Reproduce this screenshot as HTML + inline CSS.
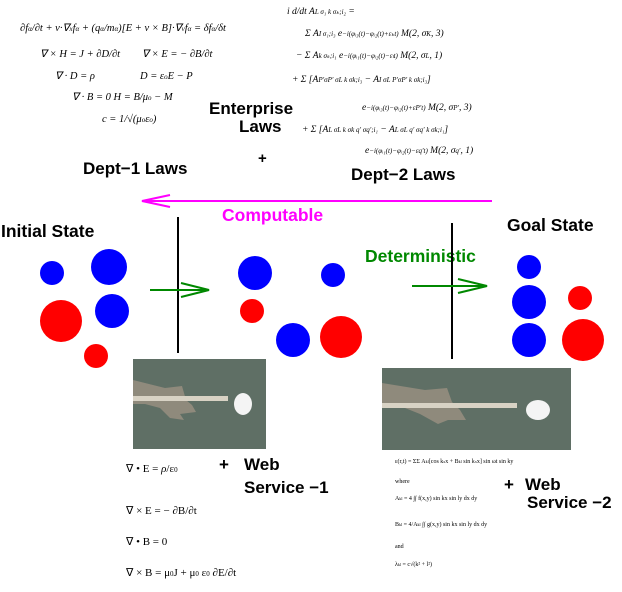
<!DOCTYPE html>
<html><head><meta charset="utf-8"><style>
html,body{margin:0;padding:0;background:#fff;}
svg{display:block;}
.b{font-family:"Liberation Sans",sans-serif;font-weight:bold;}
.m{font-family:"Liberation Serif",serif;font-style:italic;fill:#000;}
</style></head><body>
<svg width="622" height="592" viewBox="0 0 622 592" xmlns="http://www.w3.org/2000/svg">
<g class="m" font-size="10.5">
<text x="20" y="31">∂f<tspan font-size="7">α</tspan>/∂t + v·∇<tspan font-size="7">x</tspan>f<tspan font-size="7">α</tspan> + (q<tspan font-size="7">α</tspan>/m<tspan font-size="7">α</tspan>)[E + v × B]·∇<tspan font-size="7">v</tspan>f<tspan font-size="7">α</tspan> = δf<tspan font-size="7">α</tspan>/δt</text>
<text x="40" y="57">∇ × H = J + ∂D/∂t</text>
<text x="142" y="57">∇ × E = − ∂B/∂t</text>
<text x="55" y="79">∇ · D = ρ</text>
<text x="140" y="79">D = ε<tspan font-size="7">o</tspan>E − P</text>
<text x="72" y="100">∇ · B = 0   H = B/μ<tspan font-size="7">o</tspan> − M</text>
<text x="102" y="122">c = 1/√(μ<tspan font-size="7">o</tspan>ε<tspan font-size="7">o</tspan>)</text>
</g>
<g class="m" font-size="9.5">
<text x="287" y="14">i d/dt A<tspan font-size="7">L σ₁ k σₖ;i₂</tspan> =</text>
<text x="305" y="36">Σ A<tspan font-size="7">I σ₁;i₃</tspan> e<tspan font-size="7">−i(φᵢ₃(t)−φᵢ₂(t)+εₖt)</tspan> M(2, σ<tspan font-size="7">K</tspan>, 3)</text>
<text x="296" y="58">− Σ A<tspan font-size="7">k σₖ;i₁</tspan> e<tspan font-size="7">−i(φᵢ₁(t)−φᵢ₂(t)−εₗt)</tspan> M(2, σ<tspan font-size="7">L</tspan>, 1)</text>
<text x="292" y="82">+  Σ  [A<tspan font-size="7">P′σP′ σL k σk;i₃</tspan> − A<tspan font-size="7">I σL P′σP′ k σk;i₃</tspan>]</text>
<text x="362" y="110">e<tspan font-size="7">−i(φᵢ₃(t)−φᵢ₂(t)+εP′t)</tspan> M(2, σ<tspan font-size="7">P′</tspan>, 3)</text>
<text x="302" y="132">+  Σ  [A<tspan font-size="7">L σL k σk q′ σq′;i₁</tspan> − A<tspan font-size="7">L σL q′ σq′ k σk;i₁</tspan>]</text>
<text x="365" y="153">e<tspan font-size="7">−i(φᵢ₁(t)−φᵢ₂(t)−εq′t)</tspan> M(2, σ<tspan font-size="7">q′</tspan>, 1)</text>
</g>
<g class="b" font-size="17" fill="#000">
<text x="209" y="114">Enterprise</text>
<text x="239" y="132">Laws</text>
<text x="258" y="163" font-size="15">+</text>
<text x="83" y="174">Dept−1 Laws</text>
<text x="351" y="180">Dept−2 Laws</text>
</g>
<line x1="142" y1="201" x2="492" y2="201" stroke="#f0f" stroke-width="2"/>
<polyline points="170,195 142,201 170,207" fill="none" stroke="#f0f" stroke-width="2"/>
<text x="222" y="221" class="b" font-size="17.5" fill="#f0f">Computable</text>
<text x="1" y="237" class="b" font-size="17.5" fill="#000">Initial State</text>
<text x="507" y="231" class="b" font-size="17.5" fill="#000">Goal State</text>
<text x="365" y="262" class="b" font-size="17.5" fill="#008800">Deterministic</text>
<line x1="178" y1="217" x2="178" y2="353" stroke="#000" stroke-width="2"/>
<line x1="452" y1="223" x2="452" y2="359" stroke="#000" stroke-width="2"/>
<line x1="150" y1="290" x2="209" y2="290" stroke="#008800" stroke-width="2"/>
<polyline points="181,283 209,290 181,297" fill="none" stroke="#008800" stroke-width="2"/>
<line x1="412" y1="286" x2="487" y2="286" stroke="#008800" stroke-width="2"/>
<polyline points="458,279 487,286 458,293" fill="none" stroke="#008800" stroke-width="2"/>
<g fill="#0000ff">
<circle cx="52" cy="273" r="12"/><circle cx="109" cy="267" r="18"/><circle cx="112" cy="311" r="17"/>
<circle cx="255" cy="273" r="17"/><circle cx="333" cy="275" r="12"/><circle cx="293" cy="340" r="17"/>
<circle cx="529" cy="267" r="12"/><circle cx="529" cy="302" r="17"/><circle cx="529" cy="340" r="17"/>
</g>
<g fill="#ff0000">
<circle cx="61" cy="321" r="21"/><circle cx="96" cy="356" r="12"/>
<circle cx="252" cy="311" r="12"/><circle cx="341" cy="337" r="21"/>
<circle cx="580" cy="298" r="12"/><circle cx="583" cy="340" r="21"/>
</g>
<g>
<rect x="133" y="359" width="133" height="90" fill="#5f6f65"/>
<path d="M133,380 L165,388 L182,386 L186,400 L192,405 L196,412 L180,414 L184,420 L170,418 L160,408 L145,404 L133,404 Z" fill="#8f8a7c"/>
<rect x="133" y="396" width="95" height="5" fill="#d8d2c4"/>
<ellipse cx="243" cy="404" rx="9" ry="11" fill="#f4f4f4"/>
</g>
<g>
<rect x="382" y="368" width="189" height="82" fill="#5f6f65"/>
<path d="M382,383 L425,390 L447,388 L452,402 L460,410 L466,420 L448,420 L438,424 L420,414 L400,406 L382,404 Z" fill="#8f8a7c"/>
<rect x="382" y="403" width="135" height="5" fill="#d8d2c4"/>
<ellipse cx="538" cy="410" rx="12" ry="10" fill="#f4f4f4"/>
</g>
<g font-family="Liberation Serif,serif" font-size="11" fill="#000">
<text x="126" y="472">∇ • E = <tspan font-style="italic">ρ</tspan>/ε<tspan font-size="7">0</tspan></text>
<text x="126" y="514">∇ × E = − ∂B/∂t</text>
<text x="126" y="545">∇ • B = 0</text>
<text x="126" y="576">∇ × B = μ<tspan font-size="7">0</tspan>J + μ<tspan font-size="7">0</tspan> ε<tspan font-size="7">0</tspan> ∂E/∂t</text>
</g>
<g class="b" font-size="17" fill="#000">
<text x="219" y="470">+</text>
<text x="244" y="470">Web</text>
<text x="244" y="493">Service −1</text>
<text x="504" y="490">+</text>
<text x="525" y="490">Web</text>
<text x="527" y="508">Service −2</text>
</g>
<g font-family="Liberation Serif,serif" font-size="6" fill="#000">
<text x="395" y="463">ε(r,t) = ΣΣ A<tspan font-size="4">kl</tspan>[cos k<tspan font-size="4">x</tspan>x + B<tspan font-size="4">kl</tspan> sin k<tspan font-size="4">x</tspan>x] sin ωt sin ky</text>
<text x="395" y="483">where</text>
<text x="395" y="500">A<tspan font-size="4">kl</tspan> = 4 ∫∫ f(x,y) sin kx sin ly dx dy</text>
<text x="395" y="526">B<tspan font-size="4">kl</tspan> = 4/A<tspan font-size="4">kl</tspan> ∫∫ g(x,y) sin kx sin ly dx dy</text>
<text x="395" y="548">and</text>
<text x="395" y="566">λ<tspan font-size="4">kl</tspan> = c√(k² + l²)</text>
</g>
</svg>
</body></html>
